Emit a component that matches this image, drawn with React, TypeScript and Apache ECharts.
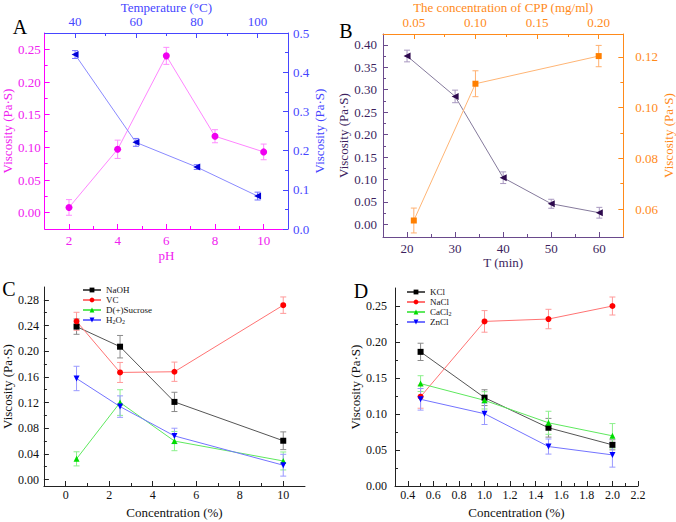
import React, { useEffect, useRef } from 'react';
import * as echarts from 'echarts';

const FONT = 'Liberation Serif';

// ---------- Panel A ----------
const phX = [2, 4, 6, 8, 10];
const phVisc = [0.008, 0.097, 0.24, 0.117, 0.093];
const phErr = [0.012, 0.014, 0.013, 0.01, 0.012];
const tempX = [40, 60, 80, 100];
const tempVisc = [0.445, 0.221, 0.158, 0.084];
const tempErr = [0.01, 0.01, 0.006, 0.01];

const aBottomTicks = [2, 4, 6, 8, 10];
const aBottomMinor = [3, 5, 7, 9];
const aTopTicks = [40, 60, 80, 100];
const aTopMinor = [50, 70, 90];
const aLeftTicks = [0, 0.05, 0.1, 0.15, 0.2, 0.25];
const aLeftMinor = [0.025, 0.075, 0.125, 0.175, 0.225];
const aRightTicks = [0, 0.1, 0.2, 0.3, 0.4, 0.5];
const aRightMinor = [0.05, 0.15, 0.25, 0.35, 0.45];

// ---------- Panel B ----------
const timeX = [20, 30, 40, 50, 60];
const timeVisc = [0.375, 0.285, 0.104, 0.046, 0.026];
const timeErr = [0.013, 0.014, 0.013, 0.01, 0.012];
const cppX = [0.05, 0.1, 0.2];
const cppVisc = [0.0555, 0.1094, 0.1203];
const cppErr = [0.0049, 0.0051, 0.0042];

const bBottomTicks = [20, 30, 40, 50, 60];
const bBottomMinor = [25, 35, 45, 55];
const bTopTicks = [0.05, 0.1, 0.15, 0.2];
const bTopMinor = [0.075, 0.125, 0.175];
const bLeftTicks = [0, 0.05, 0.1, 0.15, 0.2, 0.25, 0.3, 0.35, 0.4];
const bLeftMinor = [0.025, 0.075, 0.125, 0.175, 0.225, 0.275, 0.325, 0.375];
const bRightTicks = [0.06, 0.08, 0.1, 0.12];
const bRightMinor = [0.07, 0.09, 0.11];

// ---------- Panel C ----------
const cConc = [0.5, 2.5, 5, 10];
const cNames = ['NaOH', 'VC', 'D(+)Sucrose', 'H2O2'];
const naohVisc = [0.2383, 0.207, 0.121, 0.0605];
const naohErr = [0.012, 0.0175, 0.015, 0.0138];
const vcVisc = [0.2466, 0.1669, 0.168, 0.2717];
const vcErr = [0.014, 0.0156, 0.015, 0.0128];
const sucroseVisc = [0.0323, 0.12, 0.06, 0.029];
const sucroseErr = [0.011, 0.02, 0.015, 0.014];
const h2o2Visc = [0.1575, 0.1137, 0.068, 0.0224];
const h2o2Err = [0.019, 0.0167, 0.012, 0.017];

const cXTicks = [0, 2, 4, 6, 8, 10];
const cXMinor = [1, 3, 5, 7, 9];
const cYTicks = [0, 0.04, 0.08, 0.12, 0.16, 0.2, 0.24, 0.28];
const cYMinor = [0.02, 0.06, 0.1, 0.14, 0.18, 0.22, 0.26];

// ---------- Panel D ----------
const dConc = [0.5, 1.0, 1.5, 2.0];
const dNames = ['KCl', 'NaCl', 'CaCl2', 'ZnCl'];
const kclVisc = [0.1863, 0.1227, 0.0809, 0.0572];
const kclErr = [0.012, 0.011, 0.013, 0.007];
const naclVisc = [0.124, 0.2286, 0.2319, 0.25];
const naclErr = [0.016, 0.015, 0.0135, 0.0125];
const cacl2Visc = [0.1422, 0.119, 0.0878, 0.0697];
const cacl2Err = [0.011, 0.012, 0.016, 0.017];
const znclVisc = [0.1204, 0.1004, 0.0548, 0.0432];
const znclErr = [0.015, 0.015, 0.0105, 0.017];

const dXTicks = [0.4, 0.6, 0.8, 1.0, 1.2, 1.4, 1.6, 1.8, 2.0, 2.2];
const dXMinor = [0.5, 0.7, 0.9, 1.1, 1.3, 1.5, 1.7, 1.9, 2.1];
const dYTicks = [0, 0.05, 0.1, 0.15, 0.2, 0.25];
const dYMinor = [0.025, 0.075, 0.125, 0.175, 0.225];

// colours
const PINK = '#f020f0';
const PINK_LINE = '#ff85ff';
const BLUE = '#4646ff';
const BLUE_MARK = '#0000d8';
const BLUE_LINE = '#8a8aff';
const PURPLE = '#3d1f5e';
const PURPLE_AXIS = '#6a4a8c';
const PURPLE_MARK = '#2e0a4e';
const PURPLE_LINE = '#857a9c';
const ORANGE = '#ff8a1a';
const ORANGE_LINE = '#ffb575';

const xAxes: any[] = [];
const yAxes: any[] = [];

function addAxis(
  kind: 'x' | 'y',
  gridIndex: number,
  position: string,
  min: number,
  max: number,
  ticks: number[],
  minor: number[],
  dec: number,
  axisColor: string,
  labelColor: string,
  name: string,
  nameGap: number,
  margin: number,
  fontSize: number
): number {
  const list = kind === 'x' ? xAxes : yAxes;
  const idx = list.length;
  list.push({
    type: 'value',
    gridIndex,
    position,
    min,
    max,
    name,
    nameLocation: 'middle',
    nameGap,
    nameTextStyle: { color: labelColor, fontFamily: FONT, fontSize: 13, fontWeight: 'normal' },
    axisLine: { show: true, onZero: false, lineStyle: { color: axisColor, width: 1 } },
    axisTick: { show: true, inside: true, length: 5, customValues: ticks, lineStyle: { color: axisColor, width: 1 } },
    axisLabel: {
      show: true,
      customValues: ticks,
      formatter: (v: number) => v.toFixed(dec),
      color: labelColor,
      margin,
      fontFamily: FONT,
      fontWeight: 'normal',
      fontSize,
    },
    splitLine: { show: false },
  });
  list.push({
    type: 'value',
    gridIndex,
    position,
    min,
    max,
    axisLine: { show: false, onZero: false },
    axisTick: { show: true, inside: true, length: 3, customValues: minor, lineStyle: { color: axisColor, width: 1 } },
    axisLabel: { show: false },
    splitLine: { show: false },
  });
  return idx;
}

function lineSeries(
  name: string,
  xi: number,
  yi: number,
  xs: number[],
  ys: number[],
  symbol: string,
  rotate: number,
  mark: string,
  line: string,
  size = 6
) {
  return {
    type: 'line',
    name,
    xAxisIndex: xi,
    yAxisIndex: yi,
    data: xs.map((x, i) => [x, ys[i]]),
    symbol,
    symbolRotate: rotate,
    symbolSize: size,
    showAllSymbol: true,
    lineStyle: { color: line, width: 1 },
    itemStyle: { color: mark },
    z: 3,
    silent: true,
  };
}

function errSeries(xi: number, yi: number, xs: number[], ys: number[], es: number[], color: string) {
  return {
    type: 'custom',
    xAxisIndex: xi,
    yAxisIndex: yi,
    data: xs.map((x, i) => [x, ys[i] - es[i], ys[i] + es[i]]),
    encode: { x: 0, y: [1, 2] },
    z: 2,
    silent: true,
    renderItem: (_p: any, api: any) => {
      const x = api.value(0);
      const p1 = api.coord([x, api.value(2)]);
      const p2 = api.coord([x, api.value(1)]);
      const w = 3;
      const st = { stroke: color, lineWidth: 1, fill: 'none' };
      return {
        type: 'group',
        children: [
          { type: 'line', shape: { x1: p1[0], y1: p1[1], x2: p2[0], y2: p2[1] }, style: st },
          { type: 'line', shape: { x1: p1[0] - w, y1: p1[1], x2: p1[0] + w, y2: p1[1] }, style: st },
          { type: 'line', shape: { x1: p2[0] - w, y1: p2[1], x2: p2[0] + w, y2: p2[1] }, style: st },
        ],
      };
    },
  };
}

function buildOption() {
  xAxes.length = 0;
  yAxes.length = 0;
  const grids = [
    { left: 43, top: 31, width: 245, height: 198 },
    { left: 383, top: 32, width: 251, height: 205 },
    { left: 41, top: 287, width: 264, height: 199 },
    { left: 395, top: 288, width: 243, height: 198 },
  ];

  // A
  const aXB = addAxis('x', 0, 'bottom', 1, 11, aBottomTicks, aBottomMinor, 0, '#ff00ff', PINK, 'pH', 20, 5, 13);
  const aXT = addAxis('x', 0, 'top', 30, 110, aTopTicks, aTopMinor, 0, BLUE, BLUE, 'Temperature (\u00B0C)', 19, 5, 13);
  const aYL = addAxis('y', 0, 'left', -0.025, 0.275, aLeftTicks, aLeftMinor, 2, '#ff00ff', PINK, 'Viscosity (Pa\u00B7S)', 26, 4, 13);
  const aYR = addAxis('y', 0, 'right', 0, 0.5, aRightTicks, aRightMinor, 1, BLUE, BLUE, 'Viscosity (Pa\u00B7S)', 22, 5, 13);
  // B
  const bXB = addAxis('x', 1, 'bottom', 15, 65, bBottomTicks, bBottomMinor, 0, PURPLE_AXIS, PURPLE, 'T (min)', 13, 5, 13);
  const bXT = addAxis('x', 1, 'top', 0.025, 0.22, bTopTicks, bTopMinor, 2, ORANGE, ORANGE, 'The concentration of CPP (mg/ml)', 20, 5, 13);
  const bYL = addAxis('y', 1, 'left', -0.028, 0.424, bLeftTicks, bLeftMinor, 2, PURPLE_AXIS, PURPLE, 'Viscosity (Pa\u00B7S)', 27, 6, 13);
  const bYR = addAxis('y', 1, 'right', 0.049, 0.129, bRightTicks, bRightMinor, 2, ORANGE, ORANGE, 'Viscosity (Pa\u00B7S)', 29, 12, 13);
  // C
  const cX = addAxis('x', 2, 'bottom', -1, 11, cXTicks, cXMinor, 0, '#222', '#111', 'Concentration (%)', 20, 3, 12);
  const cY = addAxis('y', 2, 'left', -0.01, 0.3, cYTicks, cYMinor, 2, '#222', '#111', 'Viscosity (Pa\u00B7S)', 25, 5, 12);
  // D
  const dX = addAxis('x', 3, 'bottom', 0.3, 2.2, dXTicks, dXMinor, 1, '#222', '#111', 'Concentration (%)', 20, 3, 12);
  const dY = addAxis('y', 3, 'left', 0, 0.275, dYTicks, dYMinor, 2, '#222', '#111', 'Viscosity (Pa\u00B7S)', 23, 8, 12);

  const series: any[] = [
    errSeries(aXB, aYL, phX, phVisc, phErr, '#ff8cff'),
    lineSeries('pH', aXB, aYL, phX, phVisc, 'circle', 0, '#f000f0', PINK_LINE, 7),
    errSeries(aXT, aYR, tempX, tempVisc, tempErr, '#7070ff'),
    lineSeries('Temperature', aXT, aYR, tempX, tempVisc, 'triangle', 90, BLUE_MARK, BLUE_LINE, 7),

    errSeries(bXB, bYL, timeX, timeVisc, timeErr, '#a898c0'),
    lineSeries('T', bXB, bYL, timeX, timeVisc, 'triangle', 90, PURPLE_MARK, PURPLE_LINE, 7),
    errSeries(bXT, bYR, cppX, cppVisc, cppErr, '#ffb070'),
    lineSeries('CPP', bXT, bYR, cppX, cppVisc, 'rect', 0, '#ff7f00', ORANGE_LINE, 6),

    errSeries(cX, cY, cConc, naohVisc, naohErr, '#8a8a8a'),
    errSeries(cX, cY, cConc, vcVisc, vcErr, '#ff9a9a'),
    errSeries(cX, cY, cConc, sucroseVisc, sucroseErr, '#8cf08c'),
    errSeries(cX, cY, cConc, h2o2Visc, h2o2Err, '#9a9aff'),
    lineSeries(cNames[0], cX, cY, cConc, naohVisc, 'rect', 0, '#000', '#555', 6),
    lineSeries(cNames[1], cX, cY, cConc, vcVisc, 'circle', 0, '#ff0000', '#ff7373', 6),
    lineSeries(cNames[2], cX, cY, cConc, sucroseVisc, 'triangle', 0, '#00dd00', '#5ee85e', 6),
    lineSeries(cNames[3], cX, cY, cConc, h2o2Visc, 'triangle', 180, '#0000ff', '#7373ff', 6),

    errSeries(dX, dY, dConc, kclVisc, kclErr, '#8a8a8a'),
    errSeries(dX, dY, dConc, naclVisc, naclErr, '#ff9a9a'),
    errSeries(dX, dY, dConc, cacl2Visc, cacl2Err, '#8cf08c'),
    errSeries(dX, dY, dConc, znclVisc, znclErr, '#9a9aff'),
    lineSeries(dNames[0], dX, dY, dConc, kclVisc, 'rect', 0, '#000', '#555', 6),
    lineSeries(dNames[1], dX, dY, dConc, naclVisc, 'circle', 0, '#ff0000', '#ff7373', 6),
    lineSeries(dNames[2], dX, dY, dConc, cacl2Visc, 'triangle', 0, '#00dd00', '#5ee85e', 6),
    lineSeries(dNames[3], dX, dY, dConc, znclVisc, 'triangle', 180, '#0000ff', '#7373ff', 6),
  ];

  const subFmt = (name: string) => {
    if (name === 'H2O2') return 'H{s|2}O{s|2}';
    if (name === 'CaCl2') return 'CaCl{s|2}';
    return name;
  };
  const legendBase = {
    orient: 'vertical',
    itemWidth: 18,
    itemHeight: 6,
    itemGap: 0,
    padding: 0,
    selectedMode: false,
    formatter: subFmt,
    textStyle: {
      fontFamily: FONT,
      fontSize: 9,
      color: '#111',
      lineHeight: 10,
      rich: { s: { fontSize: 6, lineHeight: 10, padding: [4, 0, 0, 0], fontFamily: FONT, color: '#111' } },
    },
  };

  const letter = (t: string, x: number, y: number) => ({
    type: 'text',
    silent: true,
    style: { text: t, x, y, fill: '#000', font: `20px ${FONT}`, align: 'center', verticalAlign: 'middle' },
  });

  return {
    animation: false,
    backgroundColor: '#fff',
    textStyle: { fontFamily: FONT, fontWeight: 'normal' },
    grid: grids,
    xAxis: xAxes,
    yAxis: yAxes,
    series,
    legend: [
      { ...legendBase, data: cNames, left: 82, top: 285 },
      { ...legendBase, data: dNames, left: 406, top: 287 },
    ],
    graphic: [letter('A', 20, 27), letter('B', 346, 31), letter('C', 9, 289), letter('D', 361, 291)],
  };
}

export default function App() {
  const ref = useRef<HTMLDivElement>(null);
  useEffect(() => {
    const chart = echarts.init(ref.current!, null, { renderer: 'svg' });
    chart.setOption(buildOption() as any);
    return () => chart.dispose();
  }, []);
  return (
    <div
      ref={ref}
      style={{ position: 'fixed', left: 0, top: 0, width: 676, height: 522, background: '#fff' }}
    />
  );
}
